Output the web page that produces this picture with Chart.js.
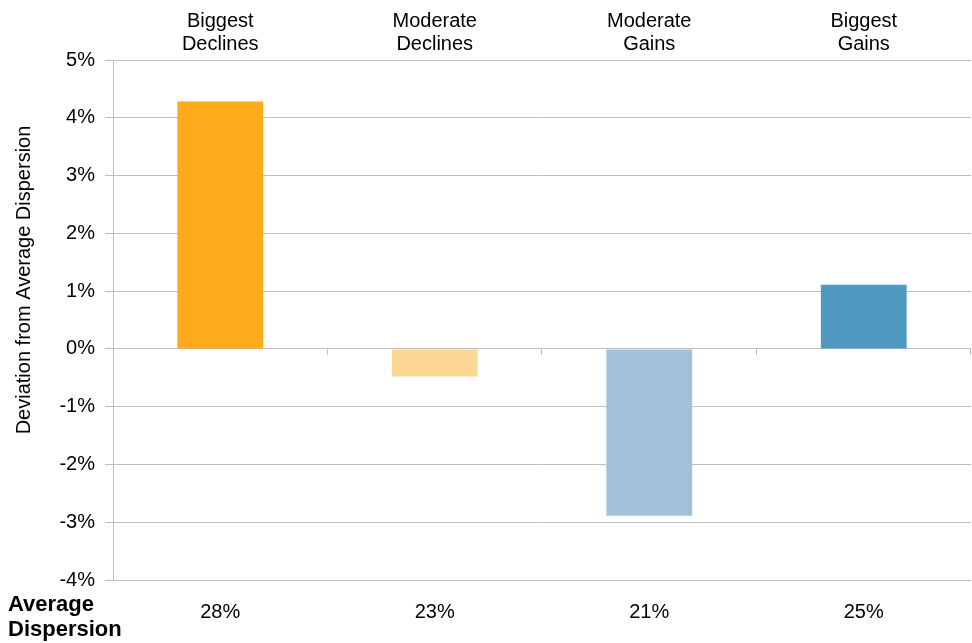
<!DOCTYPE html>
<html>
<head>
<meta charset="utf-8">
<script src="https://cdn.jsdelivr.net/npm/chart.js@4"></script>
<style>
  html, body { margin: 0; padding: 0; background: #fff; }
  #wrap { width: 972px; height: 643px; }
</style>
</head>
<body>
<div id="wrap"><canvas id="devChart" width="972" height="643"></canvas></div>
<script>
// data
const categories = [['Biggest', 'Declines'], ['Moderate', 'Declines'], ['Moderate', 'Gains'], ['Biggest', 'Gains']];
const dispersion = ['28%', '23%', '21%', '25%'];
const deviation = [4.28, -0.48, -2.89, 1.11];
const barColors = ['#FDAA1B', '#FDD894', '#A1C2D9', '#4F9AC1'];

const FONT = 'Liberation Sans, Arial, sans-serif';
const GRID = '#BFBFBF';

// little ticks hanging under the 0% line between categories
const zeroTicks = {
  id: 'zeroTicks',
  afterDatasetsDraw(chart) {
    const { ctx, scales } = chart;
    const x = scales.x, y = scales.y;
    const y0 = y.getPixelForValue(0);
    ctx.save();
    ctx.strokeStyle = GRID;
    ctx.lineWidth = 1;
    for (let i = 1; i <= categories.length; i++) {
      const px = i < categories.length
        ? (x.getPixelForValue(i - 1) + x.getPixelForValue(i)) / 2
        : x.right;
      ctx.beginPath();
      ctx.moveTo(Math.round(px) - 0.5, y0);
      ctx.lineTo(Math.round(px) - 0.5, y0 + 6);
      ctx.stroke();
    }
    ctx.restore();
  }
};

// axis title and the "Average Dispersion" row header
const extraText = {
  id: 'extraText',
  afterDraw(chart) {
    const { ctx } = chart;
    ctx.save();
    ctx.fillStyle = '#000';
    ctx.font = 'bold 22px ' + FONT;
    ctx.textBaseline = 'middle';
    ctx.textAlign = 'left';
    ctx.fillText('Average', 8, 605);
    ctx.fillText('Dispersion', 8, 630);

    ctx.font = '20px ' + FONT;
    ctx.translate(24, 280);
    ctx.rotate(-Math.PI / 2);
    ctx.textAlign = 'center';
    ctx.fillText('Deviation from Average Dispersion', 0, 0);
    ctx.restore();
  }
};

const ctx = document.getElementById('devChart').getContext('2d');
new Chart(ctx, {
  type: 'bar',
  data: {
    labels: categories,
    datasets: [{
      data: deviation,
      backgroundColor: barColors,
      barPercentage: 0.4,
      categoryPercentage: 1.0,
      xAxisID: 'x',
      yAxisID: 'y'
    }]
  },
  options: {
    responsive: false,
    animation: false,
    layout: { padding: { left: 0, right: 1, top: 0, bottom: 0 } },
    plugins: { legend: { display: false }, tooltip: { enabled: false } },
    scales: {
      x: {
        position: 'top',
        grid: { display: false, drawTicks: false },
        border: { display: false },
        ticks: { color: '#000', font: { family: FONT, size: 20, lineHeight: 1.15 }, padding: 4, maxRotation: 0 },
        afterFit(s) { s.height = 60; }
      },
      x2: {
        type: 'category',
        labels: dispersion,
        position: 'bottom',
        grid: { display: false, drawTicks: false },
        border: { display: false },
        ticks: { color: '#000', font: { family: FONT, size: 20 }, padding: 20, maxRotation: 0 },
        afterFit(s) { s.height = 63; }
      },
      y: {
        min: -4,
        max: 5,
        ticks: {
          stepSize: 1,
          color: '#000',
          font: { family: FONT, size: 20 },
          padding: 10,
          callback: v => v + '%'
        },
        grid: { color: GRID, tickLength: 8 },
        border: { color: GRID },
        afterFit(s) { s.width = 113; }
      }
    }
  },
  plugins: [zeroTicks, extraText]
});
</script>
</body>
</html>
